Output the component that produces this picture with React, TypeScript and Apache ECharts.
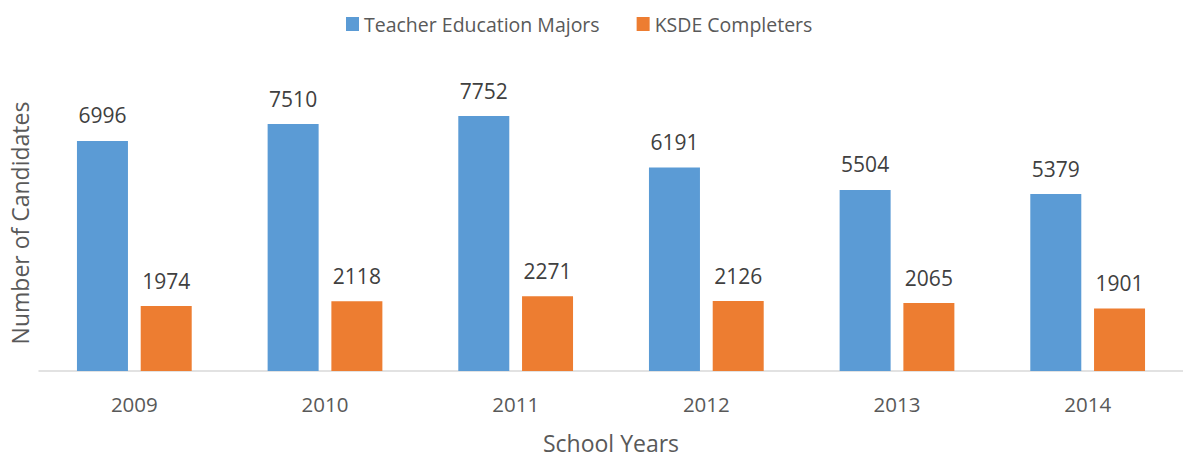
import React, { useEffect, useRef } from "react";
import * as echarts from "echarts";

const categories = ["2009", "2010", "2011", "2012", "2013", "2014"];
const teacherMajors = [6996, 7510, 7752, 6191, 5504, 5379];
const ksdeCompleters = [1974, 2118, 2271, 2126, 2065, 1901];
const seriesNames = ["Teacher Education Majors", "KSDE Completers"];

const FONT = "'Open Sans', 'Noto Sans', sans-serif";

export default function App() {
  const ref = useRef<HTMLDivElement>(null);
  useEffect(() => {
    if (!ref.current) return;
    const chart = echarts.init(ref.current, undefined, { renderer: "svg" });
    const labelStyle = {
      show: true,
      position: "top" as const,
      distance: 15,
      color: "#404040",
      fontSize: 21,
      fontFamily: FONT,
    };
    chart.setOption({
      animation: false,
      backgroundColor: "#ffffff",
      legend: {
        left: 341,
        top: 9,
        icon: "rect",
        itemWidth: 13,
        itemHeight: 14,
        itemGap: 37,
        textStyle: { color: "#595959", fontSize: 19.5, fontFamily: FONT },
        data: seriesNames,
      },
      grid: { left: 39, top: 75, width: 1149, height: 303, containLabel: false },
      xAxis: {
        type: "category",
        data: categories,
        axisLine: { show: true, lineStyle: { color: "#D9D9D9", width: 1.5 } },
        axisTick: { show: false },
        axisLabel: { color: "#595959", fontSize: 20.5, fontFamily: FONT, margin: 22 },
        name: "School Years",
        nameLocation: "middle",
        nameGap: 60,
        nameTextStyle: { color: "#595959", fontSize: 23, fontFamily: FONT },
      },
      yAxis: {
        type: "value",
        min: 0,
        max: 9000,
        interval: 1000,
        axisLine: { show: false },
        axisTick: { show: false },
        axisLabel: { show: false },
        splitLine: { show: false },
        name: "Number of Candidates",
        nameLocation: "middle",
        nameGap: 8,
        nameTextStyle: { color: "#595959", fontSize: 23, fontFamily: FONT },
      },
      series: [
        {
          name: seriesNames[0],
          type: "bar",
          data: teacherMajors,
          barWidth: 51,
          barGap: "25%",
          itemStyle: { color: "#5B9BD5" },
          label: labelStyle,
        },
        {
          name: seriesNames[1],
          type: "bar",
          data: ksdeCompleters,
          barWidth: 51,
          barGap: "25%",
          itemStyle: { color: "#ED7D31" },
          label: labelStyle,
        },
      ],
    });
    return () => chart.dispose();
  }, []);
  return (
    <div
      ref={ref}
      style={{ position: "absolute", left: 0, top: 0, width: 1183, height: 459 }}
    />
  );
}
